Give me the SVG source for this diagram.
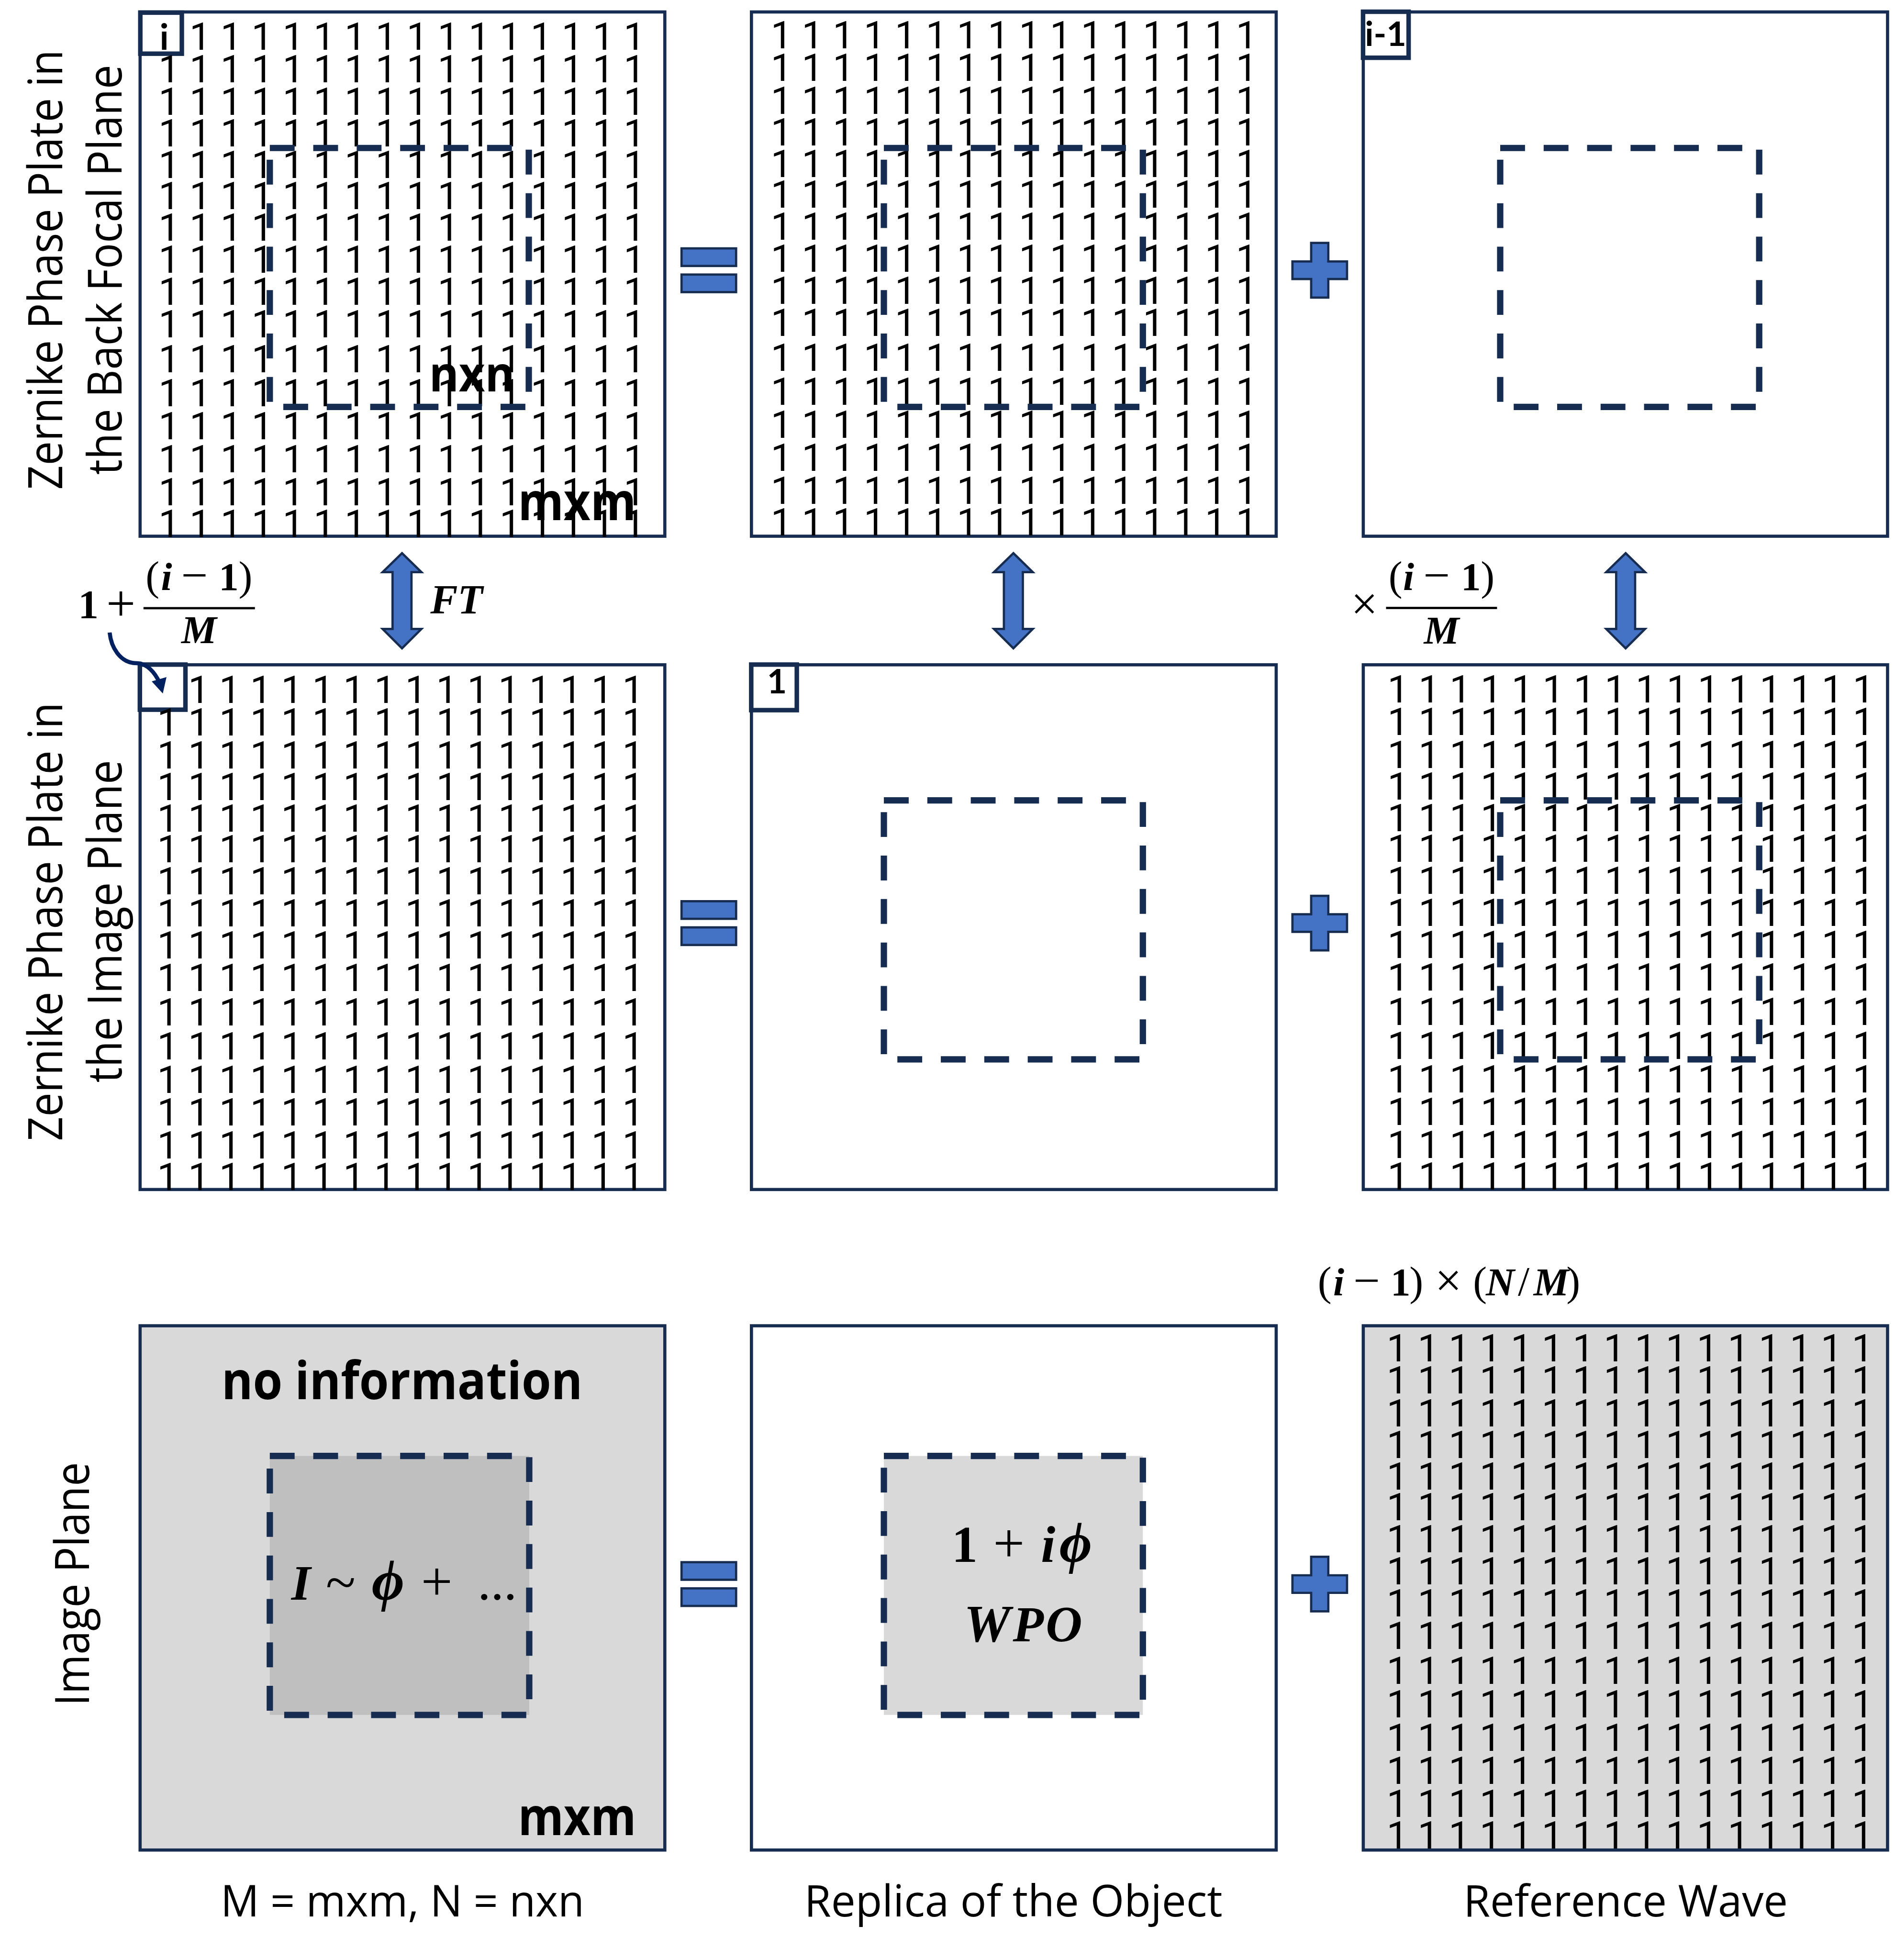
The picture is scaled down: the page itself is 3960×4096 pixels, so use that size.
<svg xmlns="http://www.w3.org/2000/svg" xmlns:xlink="http://www.w3.org/1999/xlink" width="3960" height="4096" viewBox="0 0 3960 4096">
<style>
.p{fill:#fff;stroke:#172C51;stroke-width:7}
.pg{fill:#D9D9D9;stroke:#172C51;stroke-width:7}
.d{fill:none;stroke:#172C51;stroke-width:14;stroke-dasharray:55 41.3}
.box{fill:#fff;stroke:#172C51;stroke-width:10}
.blue{fill:#4472C4;stroke:#172C51;stroke-width:5}
.g text{font-family:Roboto,"Liberation Sans",sans-serif;font-size:84px;word-spacing:0.7px;fill:#000}
.l{font-family:"Open Sans","Noto Sans",sans-serif;fill:#000;text-anchor:middle}
.bl{font-family:"Open Sans","Noto Sans",sans-serif;font-weight:700;fill:#000;text-anchor:middle}
.bx{font-family:Lato,"Open Sans",sans-serif;font-weight:700;fill:#000;text-anchor:middle;font-size:76px}
.m{font-family:"Liberation Serif","Times New Roman",serif;fill:#000;text-anchor:middle}
.i{font-family:"Liberation Serif","Times New Roman",serif;font-weight:700;font-style:italic;fill:#000;text-anchor:middle}
.n{font-family:"Liberation Serif","Times New Roman",serif;font-weight:700;fill:#000;text-anchor:middle}
</style>
<defs>
<path id="dbl" class="blue" d="M0,1226 L43,1268 H21 V1394 H43 L0,1437 L-43,1394 H-21 V1268 H-43 Z"/>
<path id="plus" class="blue" d="M2906,538.5 H2944 V579.5 H2985.5 V618.5 H2944 V659.5 H2906 V618.5 H2864.5 V579.5 H2906 Z"/>
<g id="eq" class="blue"><rect x="1510.5" y="550.5" width="121" height="39"/><rect x="1510.5" y="608.5" width="121" height="39"/></g>
</defs>
<g transform="scale(0.942857)">
<g id="panel-1-1">
<rect class="p" x="310.5" y="26.5" width="1163" height="1162"/>
<rect class="box" x="311" y="28" width="92" height="91"/>
<g class="g" transform="translate(351.3,0)">
<text x="68.7" y="110">1 1 1 1 1 1 1 1 1 1 1 1 1 1 1</text>
<text y="182">1 1 1 1 1 1 1 1 1 1 1 1 1 1 1 1</text>
<text y="255">1 1 1 1 1 1 1 1 1 1 1 1 1 1 1 1</text>
<text y="325">1 1 1 1 1 1 1 1 1 1 1 1 1 1 1 1</text>
<text y="395">1 1 1 1 1 1 1 1 1 1 1 1 1 1 1 1</text>
<text y="463">1 1 1 1 1 1 1 1 1 1 1 1 1 1 1 1</text>
<text y="534">1 1 1 1 1 1 1 1 1 1 1 1 1 1 1 1</text>
<text y="605">1 1 1 1 1 1 1 1 1 1 1 1 1 1 1 1</text>
<text y="676">1 1 1 1 1 1 1 1 1 1 1 1 1 1 1 1</text>
<text y="748">1 1 1 1 1 1 1 1 1 1 1 1 1 1 1 1</text>
<text y="825">1 1 1 1 1 1 1 1 1 1 1 1 1 1 1 1</text>
<text y="900">1 1 1 1 1 1 1 1 1 1 1 1 1 1 1 1</text>
<text y="974">1 1 1 1 1 1 1 1 1 1 1 1 1 1 1 1</text>
<text y="1047">1 1 1 1 1 1 1 1 1 1 1 1 1 1 1 1</text>
<text y="1120">1 1 1 1 1 1 1 1 1 1 1 1 1 1 1 1</text>
<text y="1190">1 1 1 1 1 1 1 1 1 1 1 1 1 1 1 1</text>
</g>
<rect class="d" x="598" y="328" width="574" height="574"/>
<text class="bx" x="364" y="110" style="font-size:80px">i</text>
<text class="bl" x="1046" y="868" font-size="108" textLength="190" lengthAdjust="spacingAndGlyphs">nxn</text>
<text class="bl" x="1279" y="1153" font-size="116" textLength="262" lengthAdjust="spacingAndGlyphs">mxm</text>
</g>
<g id="panel-1-2">
<rect class="p" x="1665.5" y="26.5" width="1163" height="1162"/>
<g class="g" transform="translate(1708.3,-3)">
<text y="110">1 1 1 1 1 1 1 1 1 1 1 1 1 1 1 1</text>
<text y="182">1 1 1 1 1 1 1 1 1 1 1 1 1 1 1 1</text>
<text y="255">1 1 1 1 1 1 1 1 1 1 1 1 1 1 1 1</text>
<text y="325">1 1 1 1 1 1 1 1 1 1 1 1 1 1 1 1</text>
<text y="395">1 1 1 1 1 1 1 1 1 1 1 1 1 1 1 1</text>
<text y="463">1 1 1 1 1 1 1 1 1 1 1 1 1 1 1 1</text>
<text y="534">1 1 1 1 1 1 1 1 1 1 1 1 1 1 1 1</text>
<text y="605">1 1 1 1 1 1 1 1 1 1 1 1 1 1 1 1</text>
<text y="676">1 1 1 1 1 1 1 1 1 1 1 1 1 1 1 1</text>
<text y="748">1 1 1 1 1 1 1 1 1 1 1 1 1 1 1 1</text>
<text y="825">1 1 1 1 1 1 1 1 1 1 1 1 1 1 1 1</text>
<text y="900">1 1 1 1 1 1 1 1 1 1 1 1 1 1 1 1</text>
<text y="974">1 1 1 1 1 1 1 1 1 1 1 1 1 1 1 1</text>
<text y="1047">1 1 1 1 1 1 1 1 1 1 1 1 1 1 1 1</text>
<text y="1120">1 1 1 1 1 1 1 1 1 1 1 1 1 1 1 1</text>
<text y="1190">1 1 1 1 1 1 1 1 1 1 1 1 1 1 1 1</text>
</g>
<rect class="d" x="1959" y="328" width="574" height="574"/>
</g>
<g id="panel-1-3">
<rect class="p" x="3021.5" y="26.5" width="1162" height="1162"/>
<rect class="box" x="3021" y="26" width="101" height="102"/>
<rect class="d" x="3325" y="328" width="574" height="574"/>
<text class="bx" x="3071" y="102">i-1</text>
</g>
<g id="panel-2-1">
<rect class="p" x="310.5" y="1473.5" width="1163" height="1163"/>
<rect class="box" x="310" y="1473" width="101" height="100"/>
<g class="g" transform="translate(348.3,1448)">
<text x="68.7" y="110">1 1 1 1 1 1 1 1 1 1 1 1 1 1 1</text>
<text y="182">1 1 1 1 1 1 1 1 1 1 1 1 1 1 1 1</text>
<text y="255">1 1 1 1 1 1 1 1 1 1 1 1 1 1 1 1</text>
<text y="325">1 1 1 1 1 1 1 1 1 1 1 1 1 1 1 1</text>
<text y="395">1 1 1 1 1 1 1 1 1 1 1 1 1 1 1 1</text>
<text y="463">1 1 1 1 1 1 1 1 1 1 1 1 1 1 1 1</text>
<text y="534">1 1 1 1 1 1 1 1 1 1 1 1 1 1 1 1</text>
<text y="605">1 1 1 1 1 1 1 1 1 1 1 1 1 1 1 1</text>
<text y="676">1 1 1 1 1 1 1 1 1 1 1 1 1 1 1 1</text>
<text y="748">1 1 1 1 1 1 1 1 1 1 1 1 1 1 1 1</text>
<text y="825">1 1 1 1 1 1 1 1 1 1 1 1 1 1 1 1</text>
<text y="900">1 1 1 1 1 1 1 1 1 1 1 1 1 1 1 1</text>
<text y="974">1 1 1 1 1 1 1 1 1 1 1 1 1 1 1 1</text>
<text y="1047">1 1 1 1 1 1 1 1 1 1 1 1 1 1 1 1</text>
<text y="1120">1 1 1 1 1 1 1 1 1 1 1 1 1 1 1 1</text>
<text y="1190">1 1 1 1 1 1 1 1 1 1 1 1 1 1 1 1</text>
</g>
</g>
<g id="panel-2-2">
<rect class="p" x="1665.5" y="1473.5" width="1163" height="1163"/>
<rect class="box" x="1665" y="1473" width="101" height="101"/>
<rect class="d" x="1959" y="1774" width="574" height="574"/>
<text class="bx" x="1722" y="1537">1</text>
</g>
<g id="panel-2-3">
<rect class="p" x="3021.5" y="1473.5" width="1162" height="1163"/>
<g class="g" transform="translate(3075.3,1447)">
<text y="110">1 1 1 1 1 1 1 1 1 1 1 1 1 1 1 1</text>
<text y="182">1 1 1 1 1 1 1 1 1 1 1 1 1 1 1 1</text>
<text y="255">1 1 1 1 1 1 1 1 1 1 1 1 1 1 1 1</text>
<text y="325">1 1 1 1 1 1 1 1 1 1 1 1 1 1 1 1</text>
<text y="395">1 1 1 1 1 1 1 1 1 1 1 1 1 1 1 1</text>
<text y="463">1 1 1 1 1 1 1 1 1 1 1 1 1 1 1 1</text>
<text y="534">1 1 1 1 1 1 1 1 1 1 1 1 1 1 1 1</text>
<text y="605">1 1 1 1 1 1 1 1 1 1 1 1 1 1 1 1</text>
<text y="676">1 1 1 1 1 1 1 1 1 1 1 1 1 1 1 1</text>
<text y="748">1 1 1 1 1 1 1 1 1 1 1 1 1 1 1 1</text>
<text y="825">1 1 1 1 1 1 1 1 1 1 1 1 1 1 1 1</text>
<text y="900">1 1 1 1 1 1 1 1 1 1 1 1 1 1 1 1</text>
<text y="974">1 1 1 1 1 1 1 1 1 1 1 1 1 1 1 1</text>
<text y="1047">1 1 1 1 1 1 1 1 1 1 1 1 1 1 1 1</text>
<text y="1120">1 1 1 1 1 1 1 1 1 1 1 1 1 1 1 1</text>
<text y="1190">1 1 1 1 1 1 1 1 1 1 1 1 1 1 1 1</text>
</g>
<rect class="d" x="3325" y="1774" width="574" height="574"/>
</g>
<g id="panel-3-1">
<rect class="pg" x="310.5" y="2938.5" width="1163" height="1162"/>
<rect x="598" y="3227" width="575" height="574" fill="#BFBFBF"/>
<rect class="d" x="598" y="3227" width="575" height="574"/>
<text class="bl" x="891" y="3101" font-size="116" textLength="800" lengthAdjust="spacingAndGlyphs">no information</text>
<text class="bl" x="1279" y="4067" font-size="116" textLength="262" lengthAdjust="spacingAndGlyphs">mxm</text>
<text class="i" x="667" y="3546" font-size="110">I</text>
<text class="m" x="755" y="3548" font-size="122">~</text>
<text class="i" x="860" y="3546" font-size="125">ϕ</text>
<text class="m" x="968" y="3547" font-size="124">+</text>
<text class="n" x="1102" y="3546" font-size="86">…</text>
</g>
<g id="panel-3-2">
<rect class="p" x="1665.5" y="2938.5" width="1163" height="1162"/>
<rect x="1959" y="3227" width="574" height="574" fill="#D9D9D9"/>
<rect class="d" x="1959" y="3227" width="574" height="574"/>
<text class="n" x="2138" y="3462" font-size="115">1</text>
<text class="m" x="2236" y="3462" font-size="124">+</text>
<text class="i" x="2323" y="3462" font-size="115">i</text>
<text class="i" x="2384" y="3462" font-size="125">ϕ</text>
<text class="i" x="2188" y="3638" font-size="116">W</text>
<text class="i" x="2279" y="3638" font-size="112">P</text>
<text class="i" x="2358" y="3638" font-size="112">O</text>
</g>
<g id="panel-3-3">
<rect class="pg" x="3021.5" y="2938.5" width="1162" height="1162"/>
<g class="g" transform="translate(3073.3,2907)">
<text y="110">1 1 1 1 1 1 1 1 1 1 1 1 1 1 1 1</text>
<text y="182">1 1 1 1 1 1 1 1 1 1 1 1 1 1 1 1</text>
<text y="255">1 1 1 1 1 1 1 1 1 1 1 1 1 1 1 1</text>
<text y="325">1 1 1 1 1 1 1 1 1 1 1 1 1 1 1 1</text>
<text y="395">1 1 1 1 1 1 1 1 1 1 1 1 1 1 1 1</text>
<text y="463">1 1 1 1 1 1 1 1 1 1 1 1 1 1 1 1</text>
<text y="534">1 1 1 1 1 1 1 1 1 1 1 1 1 1 1 1</text>
<text y="605">1 1 1 1 1 1 1 1 1 1 1 1 1 1 1 1</text>
<text y="676">1 1 1 1 1 1 1 1 1 1 1 1 1 1 1 1</text>
<text y="748">1 1 1 1 1 1 1 1 1 1 1 1 1 1 1 1</text>
<text y="825">1 1 1 1 1 1 1 1 1 1 1 1 1 1 1 1</text>
<text y="900">1 1 1 1 1 1 1 1 1 1 1 1 1 1 1 1</text>
<text y="974">1 1 1 1 1 1 1 1 1 1 1 1 1 1 1 1</text>
<text y="1047">1 1 1 1 1 1 1 1 1 1 1 1 1 1 1 1</text>
<text y="1120">1 1 1 1 1 1 1 1 1 1 1 1 1 1 1 1</text>
<text y="1190">1 1 1 1 1 1 1 1 1 1 1 1 1 1 1 1</text>
</g>
</g>
<g id="operators">
<use xlink:href="#eq"/><use xlink:href="#eq" y="1447"/><use xlink:href="#eq" y="2912"/>
<use xlink:href="#plus"/><use xlink:href="#plus" y="1447"/><use xlink:href="#plus" y="2912"/>
</g>
<g id="connectors">
<use xlink:href="#dbl" x="891"/><use xlink:href="#dbl" x="2246"/><use xlink:href="#dbl" x="3603"/>
<path d="M243,1402 C246,1432 264,1470 304,1470 C326,1470 344,1492 353,1512" fill="none" stroke="#002060" stroke-width="9"/>
<path d="M339,1511 L367,1503 L360,1534 Z" fill="#002060" stroke="#002060" stroke-width="3"/>
</g>
<g id="labels">
<text class="l" transform="translate(138,598) rotate(-90)" font-size="104" textLength="975" lengthAdjust="spacingAndGlyphs">Zernike Phase Plate in</text>
<text class="l" transform="translate(269,598) rotate(-90)" font-size="104" textLength="909" lengthAdjust="spacingAndGlyphs">the Back Focal Plane</text>
<text class="l" transform="translate(138,2043) rotate(-90)" font-size="104" textLength="972" lengthAdjust="spacingAndGlyphs">Zernike Phase Plate in</text>
<text class="l" transform="translate(269,2042) rotate(-90)" font-size="104" textLength="715" lengthAdjust="spacingAndGlyphs">the Image Plane</text>
<text class="l" transform="translate(197,3511) rotate(-90)" font-size="104" textLength="540" lengthAdjust="spacingAndGlyphs">Image Plane</text>
<text class="l" x="892" y="4248" font-size="98" textLength="806" lengthAdjust="spacingAndGlyphs">M = mxm, N = nxn</text>
<text class="l" x="2246" y="4248" font-size="98" textLength="927" lengthAdjust="spacingAndGlyphs">Replica of the Object</text>
<text class="l" x="3603" y="4248" font-size="98" textLength="719" lengthAdjust="spacingAndGlyphs">Reference Wave</text>
</g>
<g id="formula-phase">
<text class="n" x="196" y="1370" font-size="90">1</text>
<text class="m" x="268" y="1376" font-size="115">+</text>
<rect x="318" y="1345.5" width="247" height="5"/>
<text class="m" x="338" y="1308" font-size="92">(</text>
<text class="i" x="369" y="1308" font-size="88">i</text>
<text class="m" x="431" y="1310" font-size="105">−</text>
<text class="n" x="507" y="1308" font-size="88">1</text>
<text class="m" x="544" y="1308" font-size="92">)</text>
<text class="i" x="441" y="1425" font-size="88">M</text>
<text class="i" x="1012" y="1360" font-size="91">FT</text>
</g>
<g id="formula-ref">
<text class="m" x="3024" y="1373" font-size="105">×</text>
<rect x="3072" y="1345" width="246" height="5"/>
<text class="m" x="3093" y="1308" font-size="92">(</text>
<text class="i" x="3122" y="1308" font-size="88">i</text>
<text class="m" x="3184" y="1310" font-size="105">−</text>
<text class="n" x="3260" y="1308" font-size="88">1</text>
<text class="m" x="3297" y="1308" font-size="92">)</text>
<text class="i" x="3195" y="1426" font-size="88">M</text>
</g>
<g id="formula-nm">
<text class="m" x="2936" y="2871" font-size="92">(</text>
<text class="i" x="2967" y="2871" font-size="88">i</text>
<text class="m" x="3029" y="2873" font-size="105">−</text>
<text class="n" x="3104" y="2871" font-size="88">1</text>
<text class="m" x="3139" y="2871" font-size="92">)</text>
<text class="m" x="3210" y="2873" font-size="105">×</text>
<text class="m" x="3280" y="2871" font-size="92">(</text>
<text class="i" x="3325" y="2871" font-size="88">N</text>
<text class="m" x="3377" y="2871" font-size="92">/</text>
<text class="i" x="3438" y="2871" font-size="88">M</text>
<text class="m" x="3487" y="2871" font-size="92">)</text>
</g>
</g>
</svg>
